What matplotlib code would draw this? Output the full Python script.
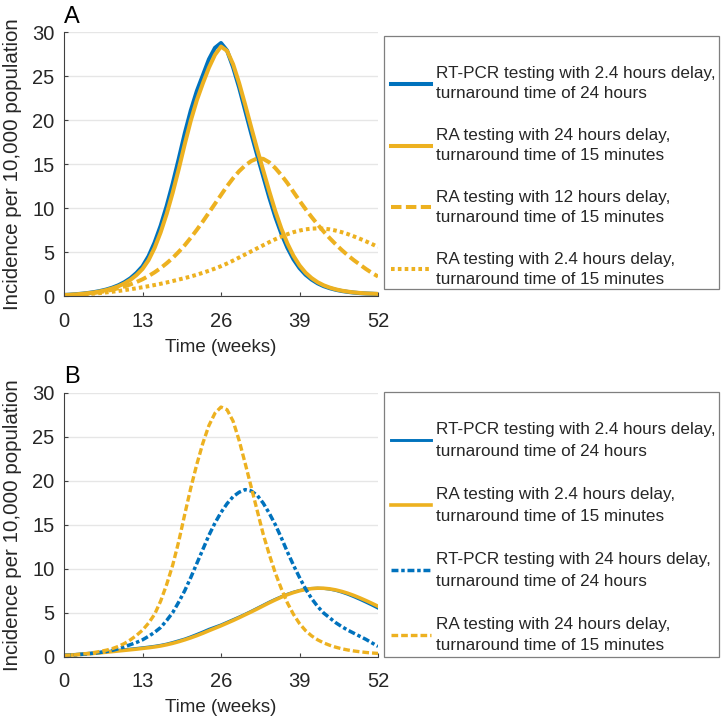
import matplotlib
matplotlib.use("Agg")
import matplotlib.pyplot as plt
from matplotlib.patches import Rectangle
import numpy as np

# ---------------------------------------------------------------------------
# Data (weekly incidence per 10,000)
# ---------------------------------------------------------------------------
weeks = np.arange(0, 53)

a_rtpcr_2h = [0.15, 0.19, 0.24, 0.30, 0.38, 0.48, 0.61, 0.77, 0.98, 1.25,
              1.6, 2.05, 2.65, 3.4, 4.55, 6.1, 8.0, 10.25, 12.8, 15.6,
              18.5, 21.1, 23.3, 25.1, 26.9, 28.2, 28.75, 27.9, 26.0, 23.7,
              21.1, 18.5, 16.0, 13.6, 11.2, 9.0, 7.1, 5.5, 4.2, 3.2,
              2.45, 1.9, 1.47, 1.15, 0.92, 0.74, 0.6, 0.5, 0.42, 0.36,
              0.32, 0.29, 0.26]
a_ra_24h = [0.15, 0.17, 0.22, 0.28, 0.35, 0.44, 0.56, 0.71, 0.9, 1.14,
            1.46, 1.87, 2.41, 3.1, 4.1, 5.49, 7.25, 9.35, 11.76, 14.44,
            17.28, 19.95, 22.26, 24.18, 25.95, 27.41, 28.35, 27.86, 26.35, 24.21,
            21.75, 19.18, 16.67, 14.27, 11.9, 9.65, 7.67, 5.99, 4.6, 3.51,
            2.68, 2.07, 1.6, 1.25, 0.99, 0.79, 0.64, 0.53, 0.44, 0.38,
            0.33, 0.3, 0.27]
a_ra_12h = [0.12, 0.15, 0.19, 0.24, 0.3, 0.38, 0.48, 0.6, 0.75, 0.92,
            1.12, 1.35, 1.62, 1.93, 2.3, 2.72, 3.2, 3.75, 4.35, 5.05,
            5.8, 6.65, 7.55, 8.5, 9.5, 10.5, 11.5, 12.5, 13.4, 14.2,
            14.85, 15.35, 15.65, 15.6, 15.2, 14.55, 13.75, 12.85, 11.85, 10.85,
            9.9, 9.0, 8.15, 7.35, 6.6, 5.9, 5.25, 4.65, 4.1, 3.6,
            3.1, 2.65, 2.25]
a_ra_2h = [0.1, 0.13, 0.17, 0.21, 0.26, 0.31, 0.37, 0.44, 0.52, 0.6,
           0.7, 0.8, 0.91, 1.03, 1.15, 1.28, 1.42, 1.57, 1.73, 1.9,
           2.07, 2.25, 2.45, 2.67, 2.9, 3.15, 3.42, 3.72, 4.05, 4.4,
           4.75, 5.1, 5.45, 5.8, 6.15, 6.48, 6.78, 7.05, 7.28, 7.46,
           7.6, 7.68, 7.71, 7.68, 7.6, 7.46, 7.28, 7.06, 6.8, 6.53,
           6.24, 5.93, 5.6]

b_rtpcr_2h = [0.15, 0.2, 0.25, 0.3, 0.36, 0.42, 0.49, 0.56, 0.63, 0.7,
              0.78, 0.85, 0.92, 1.0, 1.08, 1.17, 1.28, 1.42, 1.6, 1.8,
              2.0, 2.25, 2.52, 2.8, 3.1, 3.35, 3.6, 3.9, 4.2, 4.5,
              4.82, 5.15, 5.5, 5.85, 6.2, 6.52, 6.82, 7.1, 7.33, 7.52,
              7.66, 7.75, 7.78, 7.75, 7.66, 7.52, 7.32, 7.08, 6.8, 6.5,
              6.18, 5.85, 5.5]
b_ra_2h = [0.12, 0.16, 0.2, 0.25, 0.3, 0.36, 0.42, 0.49, 0.56, 0.63,
           0.7, 0.77, 0.84, 0.92, 1.0, 1.09, 1.2, 1.34, 1.5, 1.69,
           1.9, 2.13, 2.38, 2.65, 2.94, 3.22, 3.5, 3.8, 4.1, 4.42,
           4.75, 5.08, 5.42, 5.77, 6.12, 6.45, 6.76, 7.04, 7.28, 7.48,
           7.63, 7.73, 7.78, 7.77, 7.7, 7.58, 7.41, 7.2, 6.95, 6.67,
           6.37, 6.05, 5.72]
b_rtpcr_24h = [0.12, 0.16, 0.2, 0.25, 0.31, 0.38, 0.46, 0.56, 0.7, 0.88,
               1.1, 1.35, 1.6, 1.9, 2.3, 2.75, 3.3, 4.1, 5.0, 6.2,
               7.5, 9.0, 10.6, 12.2, 13.8, 15.2, 16.4, 17.4, 18.2, 18.7,
               19.0, 18.85, 18.35, 17.45, 16.3, 15.0, 13.5, 11.9, 10.4, 9.0,
               7.7, 6.6, 5.7, 4.95, 4.4, 3.85, 3.4, 3.0, 2.65, 2.3,
               1.95, 1.55, 1.15]
b_ra_24h = [0.12, 0.16, 0.21, 0.28, 0.36, 0.46, 0.58, 0.72, 0.9, 1.15,
            1.48, 1.9, 2.4, 3.0, 3.8, 4.8, 6.3, 8.2, 10.4, 13.1,
            16.2, 19.2, 21.9, 24.3, 26.3, 27.7, 28.4, 28.1, 26.8, 24.6,
            22.0, 19.3, 16.6, 13.9, 11.6, 9.5, 7.7, 6.1, 4.8, 3.75,
            2.95, 2.35, 1.9, 1.55, 1.28, 1.06, 0.88, 0.74, 0.63, 0.54,
            0.46, 0.4, 0.35]

labels_a = [
    "RT-PCR testing with 2.4 hours delay,\nturnaround time of 24 hours",
    "RA testing with 24 hours delay,\nturnaround time of 15 minutes",
    "RA testing with 12 hours delay,\nturnaround time of 15 minutes",
    "RA testing with 2.4 hours delay,\nturnaround time of 15 minutes",
]
labels_b = [
    "RT-PCR testing with 2.4 hours delay,\nturnaround time of 24 hours",
    "RA testing with 2.4 hours delay,\nturnaround time of 15 minutes",
    "RT-PCR testing with 24 hours delay,\nturnaround time of 24 hours",
    "RA testing with 24 hours delay,\nturnaround time of 15 minutes",
]
x_ticks = [0, 13, 26, 39, 52]
y_ticks = [0, 5, 10, 15, 20, 25, 30]

BLUE = "#0072BD"
ORANGE = "#EDB120"
TXT = "#262626"
W, H = 721, 718

plt.rcParams["font.family"] = ["Liberation Sans", "DejaVu Sans"]


def fx(px):
    return px / W


def fy(py):
    return 1 - py / H


def style_axes(ax):
    ax.set_xlim(0, 52)
    ax.set_ylim(0, 30)
    ax.set_xticks(x_ticks)
    ax.set_yticks(y_ticks)
    ax.tick_params(labelsize=14.5, colors="#404040", labelcolor=TXT,
                   direction="in", length=3, width=0.8)
    ax.tick_params(axis="x", pad=11)
    ax.tick_params(axis="y", pad=7)
    ax.spines["top"].set_visible(False)
    ax.spines["right"].set_visible(False)
    for side in ("left", "bottom"):
        ax.spines[side].set_color("#404040")
        ax.spines[side].set_linewidth(0.8)
    ax.yaxis.grid(True, color="#E6E6E6", linewidth=1.0)
    ax.set_axisbelow(True)
    ax.set_xlabel("Time (weeks)", fontsize=13.5, color=TXT, labelpad=6)
    ax.set_ylabel("Incidence per 10,000 population", fontsize=14.8, color=TXT)
    ax.yaxis.set_label_coords(-0.135, 0.5)


def add_legend(ax, handles, labels, box_top, box_bot, first_top,
               spacing, linesp):
    # legend frame drawn separately: the original box has extra top padding
    fig.patches.append(Rectangle((fx(384), fy(box_bot)), fx(719) - fx(384),
                                 fy(box_top) - fy(box_bot),
                                 transform=fig.transFigure, fill=False,
                                 edgecolor="#7F7F7F", linewidth=0.9))
    leg = ax.legend(handles, labels, loc="upper left",
                    bbox_to_anchor=(fx(391), fy(first_top)),
                    bbox_transform=fig.transFigure,
                    fontsize=12.3, frameon=False, handlelength=2.35,
                    handletextpad=0.3, labelspacing=spacing, borderpad=0,
                    borderaxespad=0)
    for t in leg.get_texts():
        t.set_color(TXT)
        t.set_linespacing(linesp)
    return leg


fig = plt.figure(figsize=(W / 100, H / 100), dpi=100)
ax_a = fig.add_axes([fx(64), fy(296.3), (378 - 64) / W, (296.3 - 32) / H])
ax_b = fig.add_axes([fx(64), fy(656.5), (378 - 64) / W, (656.5 - 393) / H])

# Panel A
h1, = ax_a.plot(weeks, a_rtpcr_2h, color=BLUE, lw=2.9)
h2, = ax_a.plot(weeks, a_ra_24h, color=ORANGE, lw=2.9)
h3, = ax_a.plot(weeks, a_ra_12h, color=ORANGE, lw=2.9, dashes=(2.6, 1.1))
h4, = ax_a.plot(weeks, a_ra_2h, color=ORANGE, lw=2.9, dashes=(0.9, 0.8))
style_axes(ax_a)
add_legend(ax_a, [h1, h2, h3, h4], labels_a, 36, 289, 66, 1.55, 1.45)

# Panel B
g1, = ax_b.plot(weeks, b_rtpcr_2h, color=BLUE, lw=2.1)
g2, = ax_b.plot(weeks, b_ra_2h, color=ORANGE, lw=2.6)
g3, = ax_b.plot(weeks, b_rtpcr_24h, color=BLUE, lw=2.5,
                dashes=(2.0, 0.8, 1.0, 0.8))
g4, = ax_b.plot(weeks, b_ra_24h, color=ORANGE, lw=2.4, dashes=(2.0, 0.9))
style_axes(ax_b)
add_legend(ax_b, [g1, g2, g3, g4], labels_b, 392, 657, 422, 1.66, 1.55)

fig.text(fx(64), fy(6), "A", fontsize=17, color="black", va="top")
fig.text(fx(64), fy(366), "B", fontsize=17, color="black", va="top")

fig.savefig("out.png", dpi=100, facecolor="white")
